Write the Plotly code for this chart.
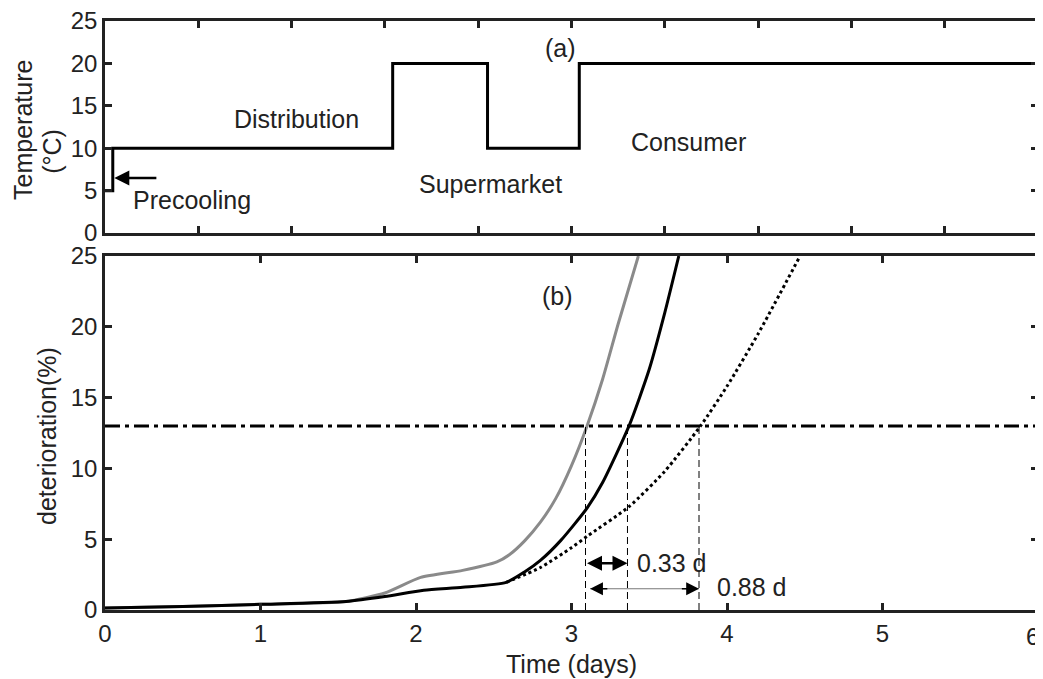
import plotly.graph_objects as go

# ---- data ----
temp_t = [0, 0.05, 0.05, 1.85, 1.85, 2.46, 2.46, 3.05, 3.05, 6.0]
temp_v = [5, 5, 10, 10, 20, 20, 10, 10, 20, 20]

gray_t = [0, 0.5, 1.0, 1.55, 1.8, 2.03, 2.3, 2.52, 2.6, 2.7, 2.8, 2.9, 3.0, 3.1, 3.2, 3.3, 3.43]
gray_v = [0.15, 0.25, 0.4, 0.6, 1.2, 2.3, 2.8, 3.4, 3.9, 4.9, 6.2, 7.9, 10.2, 13.0, 16.3, 20.2, 25.0]

black_t = [0, 0.5, 1.0, 1.55, 1.8, 2.05, 2.3, 2.58, 2.7, 2.8, 2.93, 3.1, 3.2, 3.37, 3.5, 3.6, 3.69]
black_v = [0.15, 0.25, 0.4, 0.6, 0.95, 1.4, 1.6, 1.95, 2.7, 3.5, 4.9, 7.2, 9.0, 13.0, 17.0, 21.0, 25.0]

dot_t = [2.58, 2.8, 3.0, 3.1, 3.37, 3.6, 3.83, 4.0, 4.2, 4.47]
dot_v = [1.95, 3.0, 4.4, 5.2, 7.3, 9.8, 13.0, 15.8, 19.5, 25.0]

threshold = 13
cross_t = [3.09, 3.36, 3.82]

x_ticks = [0, 1, 2, 3, 4, 5, 6]
x_ticklabels = ["0", "1", "2", "3", "4", "5", ""]
y_ticks = [0, 5, 10, 15, 20, 25]

FONT = "Liberation Sans, Arial, sans-serif"
TXT = "#222"
TS = 24   # tick font
AS = 25   # text font

fig = go.Figure()

# top panel: temperature
fig.add_trace(go.Scatter(x=temp_t, y=temp_v, mode="lines", xaxis="x2", yaxis="y2",
                         line=dict(color="black", width=3), showlegend=False))

# bottom panel curves
fig.add_trace(go.Scatter(x=[0, 6], y=[threshold, threshold], mode="lines",
                         line=dict(color="black", width=3, dash="15px,5px,4px,5px"), showlegend=False))
fig.add_trace(go.Scatter(x=gray_t, y=gray_v, mode="lines",
                         line=dict(color="#8a8a8a", width=3, shape="spline", smoothing=0.6), showlegend=False))
fig.add_trace(go.Scatter(x=black_t, y=black_v, mode="lines",
                         line=dict(color="black", width=3, shape="spline", smoothing=0.6), showlegend=False))
fig.add_trace(go.Scatter(x=dot_t, y=dot_v, mode="lines",
                         line=dict(color="black", width=3, dash="dot", shape="spline", smoothing=0.6), showlegend=False))
for ct in cross_t:
    fig.add_trace(go.Scatter(x=[ct, ct], y=[0, threshold], mode="lines",
                             line=dict(color="black", width=1, dash="7px,4px"), showlegend=False))

annos = []
def txt(x, y, s, xr="x", yr="y", xa="center", size=AS, **kw):
    annos.append(dict(x=x, y=y, xref=xr, yref=yr, text=s, showarrow=False, xanchor=xa,
                      font=dict(size=size, color=TXT, family=FONT), **kw))

txt(1.23, 13.5, "Distribution", "x2", "y2")
txt(2.48, 5.8, "Supermarket", "x2", "y2")
txt(3.75, 10.7, "Consumer", "x2", "y2")
txt(2.93, 21.8, "(a)", "x2", "y2")
txt(0.17, 3.9, "Precooling", "x2", "y2", xa="left")
txt(2.91, 22.2, "(b)")
txt(3.41, 3.3, "0.33 d", xa="left")
txt(3.92, 1.6, "0.88 d", xa="left")
# last x tick label, kept inside the page
txt(6, 0, "6", xa="right", size=TS, yanchor="top", yshift=-11, xshift=3)

# axis titles
txt(-0.0879, 0.815, "Temperature", "paper", "paper", textangle=-90, yanchor="middle")
txt(-0.0568, 0.778, "(°C)", "paper", "paper", textangle=-90, yanchor="middle")
txt(-0.0622, 0.2954, "deterioration(%)", "paper", "paper", textangle=-90, yanchor="middle")
txt(0.5, -0.0917, "Time (days)", "paper", "paper", yanchor="middle")

# precooling arrow
annos.append(dict(x=0.06, y=6.5, xref="x2", yref="y2", ax=0.34, ay=6.5, axref="x2", ayref="y2",
                  showarrow=True, arrowhead=2, arrowsize=1.2, arrowwidth=2.5, arrowcolor="black", text=""))
# 0.33 d double arrow
annos.append(dict(x=cross_t[1], y=3.3, xref="x", yref="y", ax=cross_t[0], ay=3.3, axref="x", ayref="y",
                  showarrow=True, arrowhead=2, arrowside="end+start", arrowsize=1.2, arrowwidth=2.5,
                  arrowcolor="black", text=""))
# 0.88 d arrow: thin gray line with black heads
fig.add_trace(go.Scatter(x=[cross_t[0] + 0.03, cross_t[2]], y=[1.5, 1.5], mode="lines",
                         line=dict(color="#777", width=1.2), showlegend=False))
annos.append(dict(x=cross_t[2], y=1.5, xref="x", yref="y", ax=cross_t[2] - 0.12, ay=1.5, axref="x", ayref="y",
                  showarrow=True, arrowhead=2, arrowsize=1.6, arrowwidth=1.6, arrowcolor="black", text=""))
annos.append(dict(x=cross_t[0] + 0.03, y=1.5, xref="x", yref="y", ax=cross_t[0] + 0.15, ay=1.5, axref="x", ayref="y",
                  showarrow=True, arrowhead=2, arrowsize=1.6, arrowwidth=1.6, arrowcolor="black", text=""))

axis_common = dict(showline=True, linecolor="#222", linewidth=2.5, mirror="ticks", ticks="inside",
                   ticklen=7, tickwidth=2.5, tickcolor="#222", showgrid=False, zeroline=False,
                   automargin=False, ticklabeloverflow="allow",
                   tickfont=dict(size=TS, color=TXT, family=FONT))

# page body has an 8px margin: compensate so the plot lands where the reference has it
fig.update_layout(
    width=1035, height=671,
    margin=dict(l=97, r=5, t=13, b=69),
    plot_bgcolor="white", paper_bgcolor="white",
    font=dict(family=FONT, color=TXT),
    xaxis=dict(domain=[0, 1], range=[0, 6], tickvals=x_ticks, ticktext=x_ticklabels, anchor="y",
               **axis_common),
    yaxis=dict(domain=[0, 0.601], range=[0, 25], tickvals=y_ticks, anchor="x", **axis_common),
    xaxis2=dict(domain=[0, 1], range=[0, 6], tickvals=[0.6 * i for i in range(11)], showticklabels=False,
                anchor="y2", **axis_common),
    yaxis2=dict(domain=[0.640, 1], range=[0, 25], tickvals=y_ticks, anchor="x2", **axis_common),
    annotations=annos,
)

fig.write_html("out.html")
